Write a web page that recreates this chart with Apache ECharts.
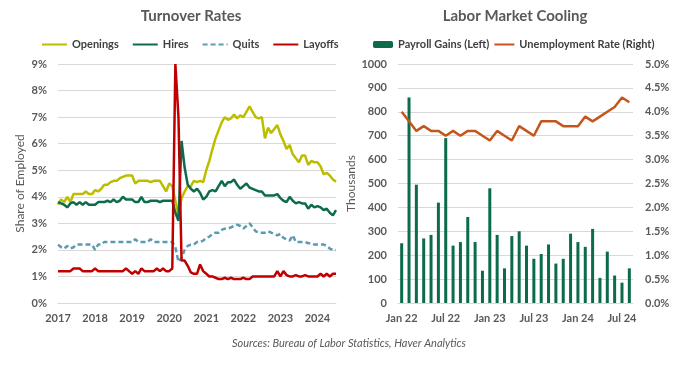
<!DOCTYPE html>
<html><head><meta charset="utf-8">
<script src="https://cdn.jsdelivr.net/npm/echarts@6/dist/echarts.min.js"></script>
<style>html,body{margin:0;padding:0;background:#fff}#c{width:700px;height:365px}</style>
</head><body><div id="c"></div>
<script>
// ---- Turnover rates, monthly Jan 2017 - Jul 2024 (share of employed, %) ----
const openings = [
  3.7, 3.9, 3.8, 4.0, 3.8, 4.1, 4.1, 4.1, 4.1, 4.2, 4.1, 4.1,
  4.25, 4.2, 4.3, 4.45, 4.45, 4.55, 4.6, 4.6, 4.7, 4.75, 4.8, 4.8,
  4.8, 4.5, 4.6, 4.6, 4.6, 4.6, 4.55, 4.6, 4.6, 4.6, 4.4, 4.2,
  4.5, 4.4, 3.85, 3.3, 3.95, 4.2, 4.4, 4.4, 4.6, 4.55, 4.6, 4.55,
  5.0, 5.35, 5.8, 6.2, 6.5, 6.8, 7.0, 6.9, 6.95, 7.1, 6.95, 7.07,
  7.0, 7.2, 7.4, 7.2, 7.0, 6.95, 7.0, 6.2, 6.6, 6.4, 6.55, 6.7,
  6.35, 6.1, 5.8, 5.95, 5.6, 5.45, 5.3, 5.55, 5.55, 5.2, 5.35, 5.3,
  5.3, 5.15, 4.85, 4.9, 4.8, 4.65, 4.57
];
const hires = [
  3.8, 3.75, 3.7, 3.6, 3.75, 3.8, 3.7, 3.8, 3.7, 3.8, 3.7, 3.7,
  3.7, 3.8, 3.8, 3.8, 3.85, 3.8, 3.9, 3.8, 3.85, 4.0, 3.9, 3.9,
  3.9, 3.8, 3.8, 4.0, 3.8, 3.8, 3.85, 3.85, 3.85, 3.8, 3.85, 3.85,
  3.85, 3.85, 3.4, 3.1, 6.1, 5.1, 4.45, 4.3, 4.2, 4.3, 4.15, 3.9,
  4.0, 4.2, 4.25, 4.2, 4.4, 4.6, 4.4, 4.55, 4.55, 4.65, 4.45, 4.3,
  4.4, 4.5, 4.35, 4.3, 4.25, 4.2, 4.2, 4.05, 4.05, 4.05, 4.05, 4.1,
  3.95, 3.85, 3.8, 4.0, 3.85, 3.75, 3.8, 3.75, 3.75, 3.55, 3.7, 3.6,
  3.65, 3.6, 3.5, 3.55, 3.4, 3.3, 3.5
];
const quits = [
  2.2, 2.1, 2.05, 2.15, 2.05, 2.1, 2.2, 2.2, 2.2, 2.2, 2.2, 2.2,
  2.0, 2.2, 2.2, 2.3, 2.3, 2.3, 2.3, 2.3, 2.3, 2.3, 2.3, 2.3,
  2.3, 2.4, 2.3, 2.3, 2.3, 2.3, 2.4, 2.3, 2.3, 2.3, 2.3, 2.3,
  2.3, 2.3, 2.1, 1.55, 1.7, 2.0, 2.15, 2.2, 2.2, 2.3, 2.3, 2.35,
  2.45, 2.5, 2.6, 2.65, 2.65, 2.75, 2.8, 2.8, 2.85, 2.9, 2.95, 2.9,
  2.8, 2.9, 3.0, 2.85, 2.7, 2.65, 2.65, 2.65, 2.7, 2.65, 2.6, 2.55,
  2.6, 2.45, 2.4, 2.35, 2.55, 2.3, 2.3, 2.3, 2.3, 2.25, 2.25, 2.2,
  2.2, 2.2, 2.2, 2.15, 2.05, 2.0, 2.0
];
const layoffs = [
  1.2, 1.2, 1.2, 1.2, 1.2, 1.3, 1.3, 1.3, 1.2, 1.2, 1.2, 1.2,
  1.3, 1.2, 1.2, 1.2, 1.2, 1.2, 1.2, 1.2, 1.2, 1.2, 1.3, 1.2,
  1.1, 1.2, 1.1, 1.3, 1.2, 1.2, 1.2, 1.2, 1.3, 1.2, 1.3, 1.2,
  1.2, 1.3, 9.0, 7.0, 1.6, 1.6, 1.4, 1.15, 1.1, 1.1, 1.45, 1.2,
  1.1, 1.0, 1.0, 0.95, 0.9, 0.9, 0.95, 0.9, 0.95, 0.9, 0.9, 0.9,
  0.95, 0.9, 0.9, 1.0, 1.0, 1.0, 1.0, 1.0, 1.0, 1.0, 1.0, 1.2,
  1.0, 1.2, 1.05, 1.0, 1.0, 1.05, 1.0, 1.0, 1.05, 1.0, 1.0, 1.0,
  1.0, 1.1, 1.0, 1.1, 1.0, 1.1, 1.1
];
const turnoverStartYear = 2017;

// ---- Labor market cooling, monthly Jan 2022 - Aug 2024 ----
const payrollGains = [
  250, 860, 495, 270, 285, 420, 690, 240, 255, 360, 255, 135,
  480, 285, 145, 280, 300, 240, 185, 205, 245, 165, 185, 290,
  255, 235, 310, 105, 215, 115, 85, 145
];
const unemploymentRate = [
  4.0, 3.8, 3.6, 3.7, 3.6, 3.6, 3.5, 3.6, 3.5, 3.6, 3.6, 3.5,
  3.4, 3.6, 3.5, 3.4, 3.7, 3.6, 3.5, 3.8, 3.8, 3.8, 3.7, 3.7,
  3.7, 3.9, 3.8, 3.9, 4.0, 4.1, 4.3, 4.2
];
const monthNames = ['Jan','Feb','Mar','Apr','May','Jun','Jul','Aug','Sep','Oct','Nov','Dec'];
const coolingStartYear = 22;

const turnoverMonths = openings.map((_, i) => (turnoverStartYear + Math.floor(i / 12)) + '-' + String(i % 12 + 1).padStart(2, '0'));
const coolingMonths = payrollGains.map((_, i) => monthNames[i % 12] + ' ' + (coolingStartYear + Math.floor(i / 12)));

const FONT = 'Lato, "Noto Sans", sans-serif';
const GRAY = '#595959';
const GRID = '#d9d9d9';
const lbl = { color: GRAY, fontSize: 11, fontWeight: 'bold', fontFamily: FONT };
const hiddenSymbol = { color: 'rgba(0,0,0,0)', borderColor: 'rgba(0,0,0,0)', borderWidth: 0 };

const chart = echarts.init(document.getElementById('c'), null, { renderer: 'canvas' });
chart.setOption({
  animation: false,
  backgroundColor: '#fff',
  title: [
    { text: 'Turnover Rates', left: 186, top: 4, textAlign: 'center',
      textStyle: { color: GRAY, fontSize: 15, fontWeight: 'bold', fontFamily: FONT } },
    { text: 'Labor Market Cooling', left: 510, top: 4, textAlign: 'center',
      textStyle: { color: GRAY, fontSize: 15, fontWeight: 'bold', fontFamily: FONT } },
    { text: 'Sources: Bureau of Labor Statistics, Haver Analytics', left: 344, top: 333, textAlign: 'center',
      textStyle: { color: GRAY, fontSize: 11, fontStyle: 'italic', fontWeight: 'normal', fontFamily: FONT } }
  ],
  legend: [
    { data: ['Openings', 'Hires', 'Quits', 'Layoffs'], left: 36, top: 34, itemWidth: 25, itemHeight: 10, itemGap: 13,
      itemStyle: hiddenSymbol,
      textStyle: { color: '#404040', fontSize: 11, fontWeight: 'bold', fontFamily: FONT } },
    { data: [{ name: 'Payroll Gains (Left)' }, { name: 'Unemployment Rate (Right)', itemStyle: hiddenSymbol }],
      left: 368, top: 34, itemWidth: 20, itemHeight: 7, itemGap: 4,
      textStyle: { color: '#404040', fontSize: 11, fontWeight: 'bold', fontFamily: FONT } }
  ],
  grid: [
    { left: 58, right: 364, top: 64, bottom: 62 },
    { left: 398, right: 67, top: 64, bottom: 62 }
  ],
  xAxis: [
    { type: 'category', gridIndex: 0, data: turnoverMonths, boundaryGap: false,
      axisLine: { lineStyle: { color: GRID } }, axisTick: { show: false },
      axisLabel: Object.assign({ interval: 11, margin: 10, formatter: v => v.slice(0, 4) }, lbl) },
    { type: 'category', gridIndex: 1, data: coolingMonths, boundaryGap: true,
      axisLine: { lineStyle: { color: GRID } }, axisTick: { show: false },
      axisLabel: Object.assign({ interval: 5, margin: 10 }, lbl) }
  ],
  yAxis: [
    { type: 'value', gridIndex: 0, min: 0, max: 9, interval: 1,
      name: 'Share of Employed', nameLocation: 'middle', nameGap: 32,
      nameTextStyle: { color: GRAY, fontSize: 12, fontFamily: FONT },
      axisLine: { show: false }, axisTick: { show: false },
      splitLine: { lineStyle: { color: GRID } },
      axisLabel: Object.assign({ margin: 11, formatter: '{value}%' }, lbl) },
    { type: 'value', gridIndex: 1, min: 0, max: 1000, interval: 100,
      name: 'Thousands', nameLocation: 'middle', nameGap: 35,
      nameTextStyle: { color: GRAY, fontSize: 12, fontFamily: FONT },
      axisLine: { show: false }, axisTick: { show: false },
      splitLine: { lineStyle: { color: GRID } },
      axisLabel: Object.assign({ margin: 11, formatter: v => String(v) }, lbl) },
    { type: 'value', gridIndex: 1, position: 'right', min: 0, max: 5, interval: 0.5,
      axisLine: { show: false }, axisTick: { show: false }, splitLine: { show: false },
      axisLabel: Object.assign({ margin: 12, formatter: v => v.toFixed(1) + '%' }, lbl) }
  ],
  series: [
    { name: 'Openings', type: 'line', xAxisIndex: 0, yAxisIndex: 0, data: openings, symbol: 'none',
      lineStyle: { color: '#bdbd00', width: 2.5 }, itemStyle: { color: '#bdbd00' } },
    { name: 'Hires', type: 'line', xAxisIndex: 0, yAxisIndex: 0, data: hires, symbol: 'none',
      lineStyle: { color: '#0b6b4b', width: 2.5 }, itemStyle: { color: '#0b6b4b' } },
    { name: 'Quits', type: 'line', xAxisIndex: 0, yAxisIndex: 0, data: quits, symbol: 'none',
      lineStyle: { color: '#5b9bb3', width: 2.5, type: [5, 3] }, itemStyle: { color: '#5b9bb3' } },
    { name: 'Layoffs', type: 'line', xAxisIndex: 0, yAxisIndex: 0, data: layoffs, symbol: 'none',
      lineStyle: { color: '#c00000', width: 2.5 }, itemStyle: { color: '#c00000' } },
    { name: 'Payroll Gains (Left)', type: 'bar', xAxisIndex: 1, yAxisIndex: 1, data: payrollGains,
      barWidth: 3, itemStyle: { color: '#0b6b4b' } },
    { name: 'Unemployment Rate (Right)', type: 'line', xAxisIndex: 1, yAxisIndex: 2, data: unemploymentRate, symbol: 'none',
      lineStyle: { color: '#c5561b', width: 2.5 }, itemStyle: { color: '#c5561b' } }
  ]
});
</script>
</body></html>
